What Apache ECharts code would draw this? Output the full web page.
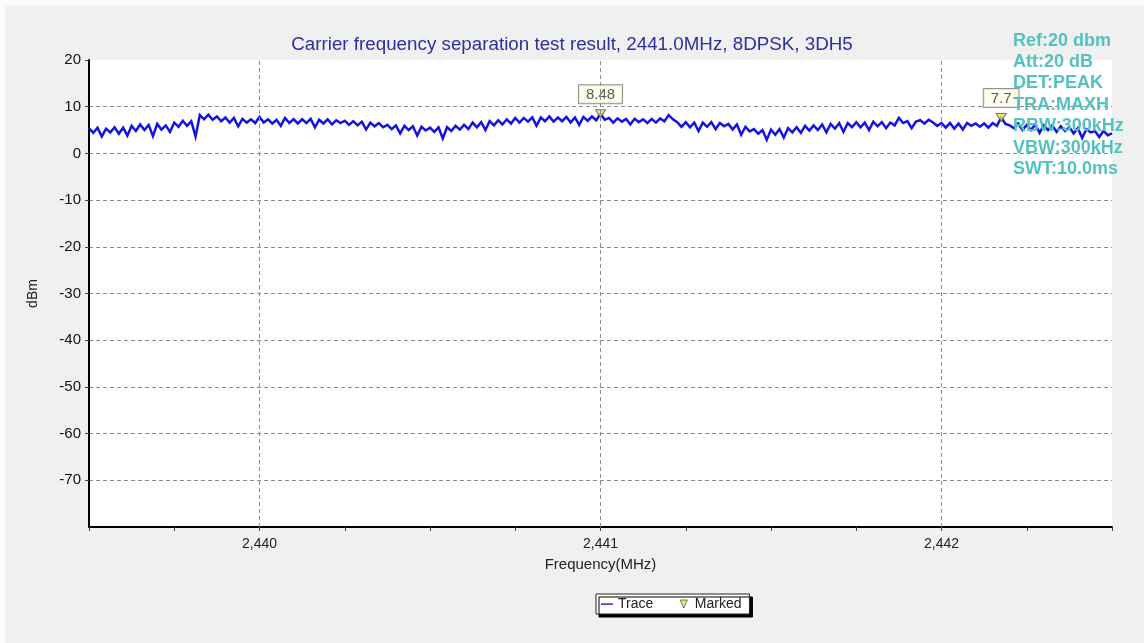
<!DOCTYPE html>
<html>
<head>
<meta charset="utf-8">
<title>Carrier frequency separation</title>
<script src="https://cdn.jsdelivr.net/npm/echarts@6/dist/echarts.min.js"></script>
<style>
  html, body { margin: 0; padding: 0; background: #fbfbfb; }
  #chart {
    width: 1144px; height: 643px;
    background: #f0f0f0;
    box-shadow: inset 5px 5px 0 0 #fbfbfb;
  }
</style>
</head>
<body>
<div id="chart"></div>
<script>
// Sweep settings: evenly spaced frequency points (MHz)
const freqStart = 2439.5;
const freqStep = 0.0125;

// Trace levels (dBm), one per sweep point, 241 points
const traceLevels = [
  5.4, 4.4, 5.5, 3.6, 5.3, 4.5, 5.6, 4.2, 5.5, 3.8,
  5.9, 4.8, 6.2, 5.0, 6.1, 3.7, 6.3, 5.1, 6.0, 4.6,
  6.6, 5.7, 7.0, 5.9, 6.9, 3.6, 8.2, 7.3, 8.3, 7.2,
  7.9, 6.9, 7.7, 6.6, 7.6, 5.8, 7.4, 6.6, 7.3, 6.5,
  7.8, 6.6, 7.3, 6.4, 7.2, 5.9, 7.6, 6.5, 7.3, 6.4,
  7.3, 6.5, 7.4, 5.6, 7.2, 6.4, 7.3, 6.2, 7.1, 6.5,
  7.0, 6.1, 6.9, 6.0, 6.8, 5.1, 6.6, 5.8, 6.5, 5.6,
  6.1, 5.2, 6.0, 4.3, 5.9, 5.0, 5.8, 3.8, 5.7, 4.9,
  5.5, 4.6, 5.6, 3.2, 5.6, 4.8, 5.9, 5.1, 6.1, 5.2,
  6.6, 5.6, 6.7, 5.0, 6.9, 6.0, 7.1, 6.2, 7.3, 6.4,
  7.6, 6.6, 7.6, 6.8, 7.7, 5.9, 7.7, 6.9, 7.9, 6.8,
  7.7, 6.9, 7.8, 6.6, 7.7, 6.1, 7.8, 7.0, 7.9, 7.1,
  8.48, 7.2, 7.6, 6.6, 7.5, 6.8, 7.4, 6.2, 7.4, 6.7,
  7.3, 6.5, 7.4, 6.6, 7.5, 6.9, 8.2, 7.3, 6.7, 5.7,
  6.7, 5.6, 6.6, 4.8, 6.6, 5.7, 6.7, 5.2, 6.5, 5.8,
  6.3, 5.1, 6.2, 4.0, 5.7, 4.7, 5.2, 4.2, 5.0, 2.9,
  5.1, 4.0, 5.2, 3.4, 5.4, 4.5, 5.6, 4.4, 5.9, 4.9,
  6.0, 5.0, 6.2, 4.5, 6.3, 5.3, 6.5, 4.6, 6.5, 5.6,
  6.7, 5.6, 6.6, 5.0, 6.8, 5.8, 6.7, 5.4, 6.6, 6.0,
  7.6, 6.5, 6.9, 5.4, 6.8, 7.1, 6.4, 7.2, 6.6, 5.9,
  6.5, 5.5, 6.5, 5.3, 6.4, 5.1, 6.5, 5.9, 6.4, 5.7,
  6.4, 5.5, 6.5, 5.9, 7.7, 6.3, 6.0, 5.4, 6.4, 5.0,
  6.1, 5.0, 6.2, 4.4, 6.0, 5.0, 6.0, 4.6, 5.8, 4.8,
  5.6, 4.3, 5.4, 3.3, 5.2, 4.5, 4.8, 3.5, 4.8, 3.9, 4.3
];

// Marker readouts
const markerFreqs = [2441.0, 2442.175];
const markerLevels = [8.48, 7.7];

// Frequencies that carry a vertical grid line
const gridFreqs = [2440, 2441, 2442];

// Instrument settings panel
const infoLines = [
  'Ref:20 dbm', 'Att:20 dB', 'DET:PEAK', 'TRA:MAXH',
  'RBW:300kHz', 'VBW:300kHz', 'SWT:10.0ms'
];

const titleText = 'Carrier frequency separation test result, 2441.0MHz, 8DPSK, 3DH5';

const traceData = traceLevels.map((v, i) => [freqStart + i * freqStep, v]);
const markerData = markerFreqs.map((f, i) => [f, markerLevels[i]]);

const FONT = 'Arial, "Liberation Sans", sans-serif';
const gridDash = { color: '#8c8c8c', width: 1, type: [4, 3] };

function fmtFreq(v) {
  if (Math.abs(v - Math.round(v)) > 1e-6) return '';
  return String(Math.round(v)).replace(/(\d)(?=(\d{3})+$)/, '$1,');
}

const chart = echarts.init(document.getElementById('chart'), null, { renderer: 'canvas' });

chart.setOption({
  animation: false,
  textStyle: { fontFamily: FONT },
  title: {
    text: titleText,
    left: 'center',
    top: 30,
    textStyle: { fontFamily: FONT, fontSize: 18.8, fontWeight: 'normal', color: '#2f2fa0' }
  },
  grid: {
    left: 89, right: 32, top: 60, bottom: 116,
    show: true, backgroundColor: '#ffffff', borderWidth: 0
  },
  legend: {
    left: 596, top: 594,
    orient: 'horizontal',
    padding: [3, 8, 3, 5],
    itemGap: 24,
    itemWidth: 12, itemHeight: 10,
    backgroundColor: '#ffffff',
    borderColor: '#222', borderWidth: 1,
    shadowColor: '#000', shadowOffsetX: 3, shadowOffsetY: 3, shadowBlur: 0,
    textStyle: { fontFamily: FONT, fontSize: 14, color: '#222' },
    data: [
      { name: 'Trace', icon: 'path://M0,0 M0,4.4 L12,4.4 L12,5.8 L0,5.8 Z M12,10' },
      {
        name: 'Marked',
        icon: 'path://M0,0 M2.5,1 L9.5,1 L6,9 Z M12,10',
        itemStyle: { color: '#eee15a', borderColor: '#555', borderWidth: 1 }
      }
    ]
  },
  xAxis: {
    type: 'value',
    min: 2439.5, max: 2442.5, interval: 0.25,
    name: 'Frequency(MHz)',
    nameLocation: 'middle', nameGap: 30,
    nameTextStyle: { fontFamily: FONT, fontSize: 15, color: '#222' },
    axisLine: { show: true, onZero: false, lineStyle: { color: '#000', width: 2 } },
    axisTick: { show: true, length: 4, lineStyle: { color: '#444' } },
    axisLabel: { formatter: fmtFreq, fontSize: 14, color: '#222', margin: 10, fontFamily: FONT },
    splitLine: { show: false }
  },
  yAxis: {
    type: 'value',
    min: -80, max: 20, interval: 10,
    name: 'dBm',
    nameLocation: 'middle', nameGap: 49, nameRotate: 90,
    nameTextStyle: { fontFamily: FONT, fontSize: 14, color: '#222' },
    axisLine: { show: true, lineStyle: { color: '#000', width: 2 } },
    axisTick: { show: true, length: 4, lineStyle: { color: '#444' } },
    axisLabel: { fontSize: 15, color: '#111', margin: 8, showMinLabel: false, fontFamily: FONT },
    splitLine: { show: true, showMaxLine: false, showMinLine: false, lineStyle: gridDash }
  },
  series: [
    {
      name: 'grid',
      type: 'line',
      data: [],
      z: 1,
      silent: true,
      markLine: {
        silent: true,
        symbol: 'none',
        label: { show: false },
        lineStyle: gridDash,
        data: gridFreqs.map(f => ({ xAxis: f }))
      }
    },
    {
      name: 'Trace',
      type: 'line',
      data: traceData,
      showSymbol: false,
      symbol: 'none',
      z: 2,
      itemStyle: { color: '#1414e0' },
      lineStyle: { color: '#1414e0', width: 2.5, join: 'miter' }
    },
    {
      name: 'Marked',
      type: 'scatter',
      data: markerData,
      z: 3,
      symbol: 'path://M0,0 L10,0 L5,9 Z',
      symbolSize: [10, 8],
      itemStyle: { color: '#eee15a', borderColor: '#555', borderWidth: 1 },
      label: {
        show: true,
        position: 'top',
        distance: 6,
        formatter: p => String(p.value[1]),
        fontFamily: FONT,
        fontSize: 15,
        color: '#333',
        backgroundColor: '#fffce6',
        borderColor: '#777',
        borderWidth: 1,
        padding: [2, 7, 1, 7]
      }
    }
  ],
  graphic: [
    {
      type: 'text',
      left: 1013,
      top: 30,
      z: 100,
      style: {
        text: infoLines.join('\n'),
        font: 'bold 18px Arial, "Liberation Sans", sans-serif',
        lineHeight: 21.4,
        fill: '#55c1c1'
      }
    }
  ]
});
</script>
</body>
</html>
